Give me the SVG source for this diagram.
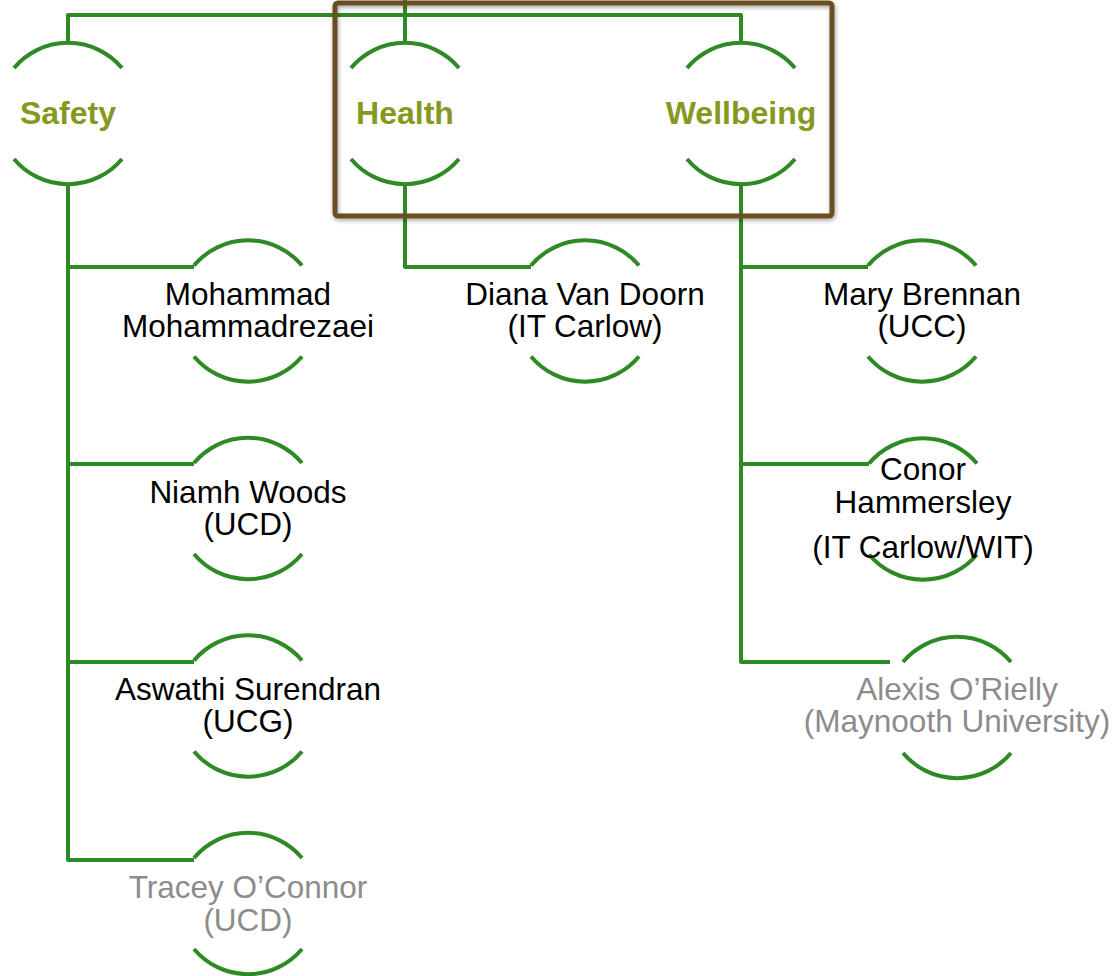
<svg xmlns="http://www.w3.org/2000/svg" xmlns:xlink="http://www.w3.org/1999/xlink" width="1116" height="976" viewBox="0 0 1116 976">
<style>
.arc{fill:none;stroke:#2E8A25;stroke-width:4}
.con{fill:none;stroke:#2E8A25;stroke-width:4;stroke-linejoin:round}
.head{font-family:"Liberation Sans",Arial,sans-serif;font-weight:bold;font-size:32px;fill:#86991F;text-anchor:middle}
.name{font-family:"Liberation Sans",Arial,sans-serif;font-size:31.5px;fill:#000;text-anchor:middle}
.grey{fill:#8C8C8C}
</style>
<defs>
<g id="ring">
<path class="arc" d="M -54 -45.5 A 70.5 70.5 0 0 1 54 -45.5"/>
<path class="arc" d="M -54 45.5 A 70.5 70.5 0 0 0 54 45.5"/>
</g>
<filter id="shadow" x="-5%" y="-5%" width="110%" height="115%">
<feDropShadow dx="1" dy="2" stdDeviation="2" flood-color="#000" flood-opacity="0.35"/>
</filter>
</defs>
<rect width="1116" height="976" fill="#fff"/>
<g id="connectors">
<path class="con" d="M 68 43 V 15 H 741 V 43"/>
<path class="con" d="M 405 0 V 43"/>
<path class="con" d="M 68 184 V 860 H 194"/>
<path class="con" d="M 68 267 H 194"/>
<path class="con" d="M 68 464 H 194"/>
<path class="con" d="M 68 662 H 194"/>
<path class="con" d="M 405 184 V 267 H 531"/>
<path class="con" d="M 741 184 V 662 H 890"/>
<path class="con" d="M 741 267 H 868"/>
<path class="con" d="M 741 464 H 869"/>
</g>
<g id="group-box">
<rect x="335" y="3" width="497" height="213" rx="3" fill="none" stroke="#6B5023" stroke-width="5" filter="url(#shadow)"/>
</g>
<g id="safety"><use href="#ring" x="68" y="113.5"/><text class="head" x="68" y="124">Safety</text></g>
<g id="health"><use href="#ring" x="405" y="113.5"/><text class="head" x="405" y="124">Health</text></g>
<g id="wellbeing"><use href="#ring" x="741" y="113.5"/><text class="head" x="741" y="124">Wellbeing</text></g>
<g id="mohammad"><use href="#ring" x="248" y="311"/><text class="name" x="248" y="305">Mohammad</text><text class="name" x="248" y="337">Mohammadrezaei</text></g>
<g id="niamh"><use href="#ring" x="248" y="508.5"/><text class="name" x="248" y="503">Niamh Woods</text><text class="name" x="248" y="535">(UCD)</text></g>
<g id="aswathi"><use href="#ring" x="248" y="706"/><text class="name" x="248" y="700">Aswathi Surendran</text><text class="name" x="248" y="732">(UCG)</text></g>
<g id="tracey"><use href="#ring" x="248" y="903.5"/><text class="name grey" x="248" y="898">Tracey O’Connor</text><text class="name grey" x="248" y="931">(UCD)</text></g>
<g id="diana"><use href="#ring" x="585" y="311"/><text class="name" x="585" y="305">Diana Van Doorn</text><text class="name" x="585" y="337">(IT Carlow)</text></g>
<g id="mary"><use href="#ring" x="922" y="311"/><text class="name" x="922" y="305">Mary Brennan</text><text class="name" x="922" y="337">(UCC)</text></g>
<g id="conor"><use href="#ring" x="923" y="509"/><text class="name" x="923" y="480">Conor</text><text class="name" x="923" y="513">Hammersley</text><text class="name" x="923" y="558">(IT Carlow/WIT)</text></g>
<g id="alexis"><use href="#ring" x="957" y="707.5"/><text class="name grey" x="957" y="700">Alexis O’Rielly</text><text class="name grey" x="957" y="732">(Maynooth University)</text></g>
</svg>
